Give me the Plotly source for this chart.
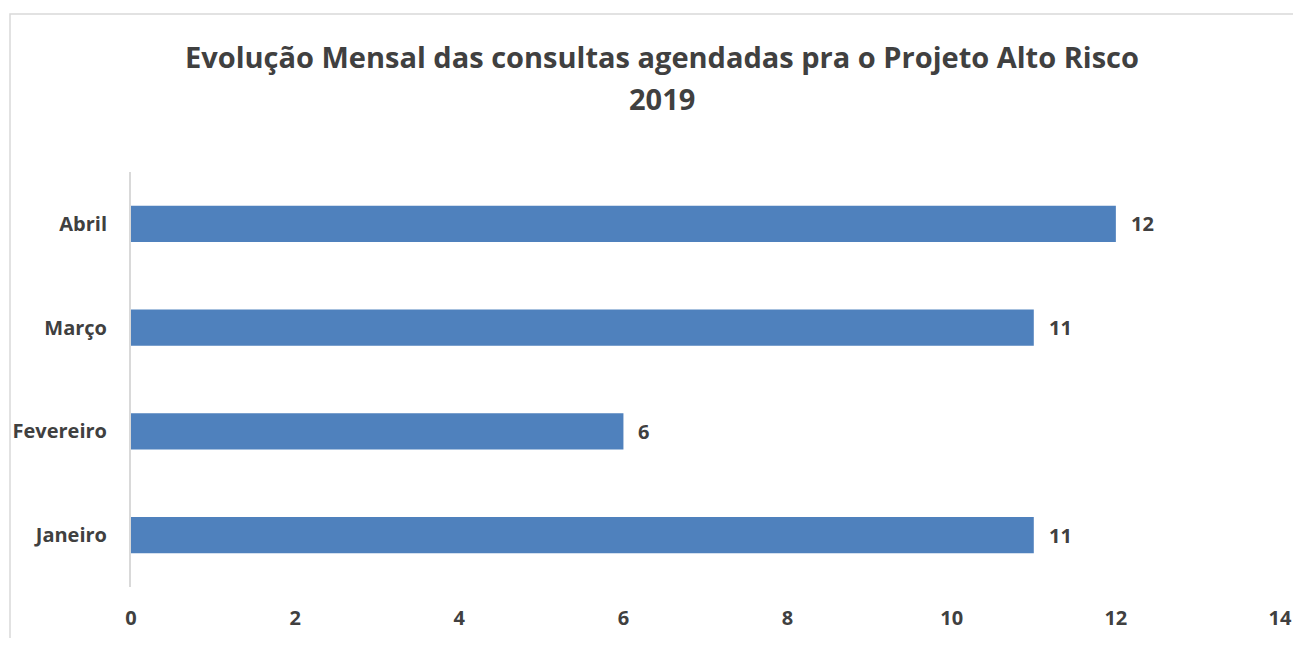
import plotly.graph_objects as go

months = ["Janeiro", "Fevereiro", "Março", "Abril"]
consultas = [11, 6, 11, 12]
x_ticks = [0, 2, 4, 6, 8, 10, 12, 14]
title_lines = ["Evolução Mensal das consultas agendadas pra o Projeto Alto Risco", "2019"]

# page has an 8px body margin, so the figure is sized to fit the window
OFF = 8
W, H = 1301 - 2 * OFF, 646 - 2 * OFF
L, T = 131 - OFF, 172 - OFF
R = W - (1280 - OFF)
B = H - (587 - OFF)
FONT = "Open Sans"
TXT = "#404040"

pw, ph = W - L - R, H - T - B
def px_x(p): return (p - OFF - L) / pw      # screen px -> paper x
def px_y(p): return (H - B - (p - OFF)) / ph  # screen px -> paper y

fig = go.Figure(go.Bar(
    y=months, x=consultas, orientation="h",
    marker=dict(color="#4f81bd", line=dict(width=0)),
))

# data labels
for m, v in zip(months, consultas):
    fig.add_annotation(x=v, y=m, text=f"<b>{v}</b>", showarrow=False,
                       xanchor="left", xshift=13,
                       font=dict(family=FONT, size=20, color=TXT))

# two-line title
for line, ypx in zip(title_lines, [56, 98]):
    fig.add_annotation(x=px_x(662), y=px_y(ypx), xref="paper", yref="paper",
                       text=f"<b>{line}</b>", showarrow=False,
                       xanchor="center", yanchor="middle",
                       font=dict(family=FONT, size=29, color=TXT))

# light border around the chart area
fig.add_shape(type="rect", xref="paper", yref="paper",
              x0=px_x(10), x1=px_x(1340), y0=px_y(14), y1=px_y(700),
              line=dict(color="#d9d9d9", width=1.5))

fig.update_layout(
    width=W, height=H,
    margin=dict(l=L, r=R, t=T, b=B),
    paper_bgcolor="white", plot_bgcolor="white",
    bargap=0.65, showlegend=False,
    xaxis=dict(range=[0, 14], tickvals=x_ticks, ticktext=[f"<b>{v}</b>" for v in x_ticks],
               showgrid=False, zeroline=False, showline=False, ticks="", automargin=False,
               tickfont=dict(family=FONT, size=20, color=TXT), ticklabelstandoff=17),
    yaxis=dict(range=[-0.5, 3.5], categoryorder="array", categoryarray=months,
               ticktext=[f"<b>{m}</b>" for m in months], tickvals=months, automargin=False,
               showgrid=False, zeroline=False, showline=True, linecolor="#d9d9d9", linewidth=2,
               ticks="", tickfont=dict(family=FONT, size=20, color=TXT), ticklabelstandoff=18),
)

fig.write_html("out.html")
